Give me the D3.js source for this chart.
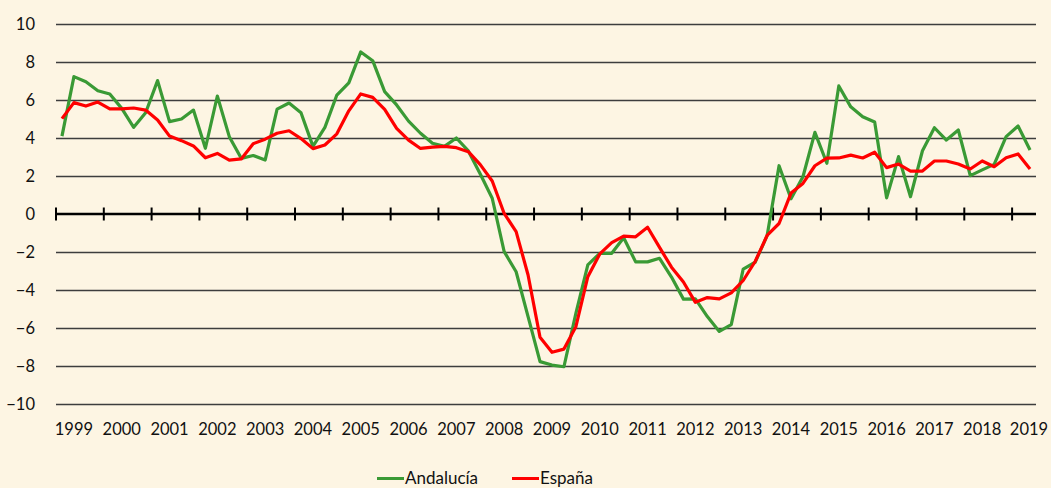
<!DOCTYPE html>
<html>
<head>
<meta charset="utf-8">
<script src="https://cdn.jsdelivr.net/npm/d3@7"></script>
<style>
  html, body { margin: 0; padding: 0; background: #FDF5E3; }
  svg { display: block; }
  text { font-family: Lato, "Open Sans", sans-serif; fill: #111; }
</style>
</head>
<body>
<svg id="chart" width="1051" height="488"></svg>
<script>
const years = ["1999","2000","2001","2002","2003","2004","2005","2006","2007","2008","2009","2010","2011","2012","2013","2014","2015","2016","2017","2018","2019"];
const yTicks = [-10,-8,-6,-4,-2,0,2,4,6,8,10];
const seriesNames = ["Andalucía","España"];
const seriesColors = ["#3A9A35","#FF0000"];

const andalucia = [4.1,7.23,6.96,6.49,6.32,5.56,4.56,5.33,7.02,4.86,5.0,5.47,3.46,6.21,4.07,2.93,
  3.08,2.84,5.52,5.84,5.33,3.56,4.56,6.26,6.9,8.53,8.07,6.44,5.74,4.89,4.25,3.72,
  3.56,4.0,3.32,2.1,0.83,-1.98,-3.04,-5.4,-7.77,-7.95,-8.04,-5.23,-2.68,-2.07,-2.07,-1.25,
  -2.52,-2.52,-2.33,-3.32,-4.48,-4.47,-5.4,-6.18,-5.82,-2.9,-2.54,-1.14,2.54,0.8,1.96,4.3,
  2.67,6.74,5.64,5.12,4.84,0.85,3.02,0.91,3.33,4.54,3.89,4.42,2.02,2.32,2.61,4.07,4.63,3.37];
const espana = [5.02,5.86,5.68,5.89,5.53,5.53,5.58,5.47,4.95,4.1,3.86,3.58,2.96,3.19,2.84,2.9,
  3.7,3.94,4.25,4.38,3.97,3.44,3.63,4.22,5.43,6.32,6.14,5.51,4.51,3.89,3.45,3.52,
  3.56,3.49,3.28,2.6,1.74,0.03,-0.93,-3.21,-6.49,-7.28,-7.11,-5.93,-3.3,-2.1,-1.51,-1.16,
  -1.2,-0.7,-1.76,-2.8,-3.58,-4.65,-4.4,-4.47,-4.15,-3.5,-2.5,-1.13,-0.5,1.1,1.61,2.54,
  2.94,2.95,3.1,2.95,3.25,2.44,2.63,2.26,2.26,2.79,2.79,2.63,2.37,2.79,2.49,2.96,3.16,2.37];

const svg = d3.select("#chart");
const mLeft = 56, mRight = 1036, mTop = 24, mBottom = 404;
const n = andalucia.length;

const x = d3.scaleBand().domain(d3.range(n)).range([mLeft, mRight]).padding(0);
const xb = d3.scaleLinear().domain([0, n]).range([mLeft, mRight]); // category boundaries
const y = d3.scaleLinear().domain([-10, 10]).range([mBottom, mTop]);

// gridlines + y labels
const yAxis = d3.axisLeft(y).tickValues(yTicks).tickSize(-(mRight - mLeft)).tickPadding(21).tickFormat(d3.format("d"));
const gy = svg.append("g").attr("transform", `translate(${mLeft},0)`).call(yAxis);
gy.select(".domain").remove();
gy.selectAll(".tick line").attr("stroke", "#3d3d3d").attr("stroke-width", 1.3)
  .attr("opacity", d => d === 0 ? 0 : 1);
gy.selectAll(".tick text").attr("font-size", 16.5).attr("fill", "#111")
  .style("font-family", "Lato, 'Open Sans', sans-serif");

// zero axis line with ticks
const z = y(0);
svg.append("line").attr("x1", mLeft).attr("x2", mRight).attr("y1", z).attr("y2", z)
  .attr("stroke", "#000").attr("stroke-width", 2.6);
const tickIdx = d3.range(0, n, 4);
svg.append("g").selectAll("line").data(tickIdx).join("line")
  .attr("x1", d => xb(d)).attr("x2", d => xb(d))
  .attr("y1", z - 6.5).attr("y2", z + 6.5)
  .attr("stroke", "#000").attr("stroke-width", 2);

// year labels
svg.append("g").selectAll("text").data(years).join("text")
  .attr("x", (d, i) => Math.min(x(i * 4 + 1) + x.bandwidth() / 2, 1029))
  .attr("y", 435)
  .attr("text-anchor", "middle")
  .attr("font-size", 16.5)
  .text(d => d);

// lines
const line = d3.line().x((d, i) => x(i) + x.bandwidth() / 2).y(d => y(d));
[andalucia, espana].forEach((s, k) => {
  svg.append("path").datum(s).attr("d", line)
    .attr("fill", "none").attr("stroke", seriesColors[k])
    .attr("stroke-width", 3.2).attr("stroke-linejoin", "round");
});

// legend
const legendX = [377, 512];
const lg = svg.append("g");
seriesNames.forEach((name, k) => {
  lg.append("line").attr("x1", legendX[k]).attr("x2", legendX[k] + 27)
    .attr("y1", 478.5).attr("y2", 478.5)
    .attr("stroke", seriesColors[k]).attr("stroke-width", 3);
  lg.append("text").attr("x", legendX[k] + 28).attr("y", 484)
    .attr("font-size", 17).text(name);
});
</script>
</body>
</html>
